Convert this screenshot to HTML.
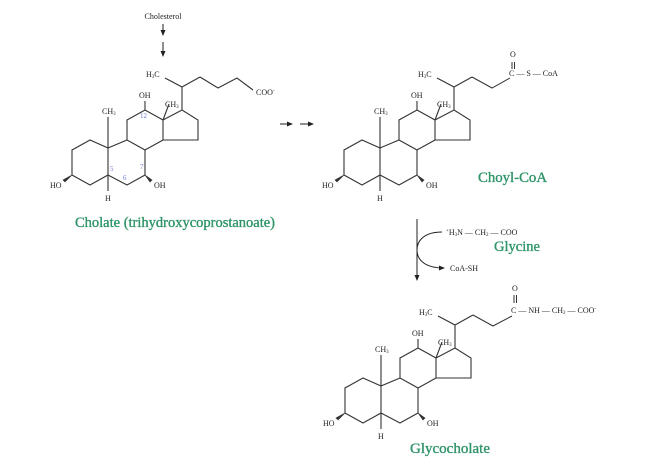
<!DOCTYPE html>
<html><head><meta charset="utf-8"><style>
html,body{margin:0;padding:0;background:#fff;}
svg{display:block;font-family:"Liberation Serif",serif;}
.s{font-size:8px;fill:#222;}
.g{font-size:14.5px;fill:#2f9468;stroke:#2f9468;stroke-width:0.35;}
.n{font-size:7px;fill:#6f79d8;}
</style></head><body>
<svg width="659" height="463" viewBox="0 0 659 463" xmlns="http://www.w3.org/2000/svg">
<defs>
<marker id="ar" markerWidth="6" markerHeight="6" refX="5" refY="3" orient="auto"><path d="M0,0.5 L6,3 L0,5.5 Z" fill="#222"/></marker>
<g id="sk" fill="none" stroke="#333" stroke-width="1.1">
<path d="M90,140 L72,150 L72,175 L90,185 L108,175 L108,148 Z M108,148 L127,140 L145,150 L145,175 L127,185 L108,175 M127,140 L127,120 L145,110 L163,120 L163,140 L145,150 M163,120 L182,110 L198,120 L198,140 L163,140 M108,148 L108,117 M145,110 L145,101 M163,120 L169,104 M182,110 L182,87 L165,78 M182,87 L200,77 M108,175 L108,191"/>
<path d="M72,175 L63,180 L65,182 Z M145,175 L152,180 L150,182 Z" fill="#333" stroke-width="0.6"/>
</g>
<g id="tx">
<text class="s" x="102" y="114">CH<tspan font-size="5" dy="1">3</tspan></text>
<text class="s" x="139" y="98">OH</text>
<text class="s" x="165" y="107">CH<tspan font-size="5" dy="1">3</tspan></text>
<text class="s" x="146" y="77">H<tspan font-size="5" dy="1">3</tspan><tspan dy="-1">C</tspan></text>
<text class="s" x="50" y="188">HO</text>
<text class="s" x="105" y="201">H</text>
<text class="s" x="154" y="188">OH</text>
</g>
</defs>

<text class="s" x="163" y="19" text-anchor="middle" font-size="9">Cholesterol</text>
<line x1="163" y1="24" x2="163" y2="35" stroke="#222" stroke-width="1" marker-end="url(#ar)"/>
<line x1="163" y1="42" x2="163" y2="56" stroke="#222" stroke-width="1" marker-end="url(#ar)"/>

<use href="#sk"/>
<use href="#tx"/>
<path d="M200,77 L218,88 L237,78 L253,90" fill="none" stroke="#333" stroke-width="1.1"/>
<text class="s" x="256" y="95">COO<tspan font-size="5" dy="-3">-</tspan></text>
<text class="n" x="110" y="171">5</text>
<text class="n" x="123" y="180">6</text>
<text class="n" x="140" y="169">7</text>
<text class="n" x="140" y="118">12</text>
<text class="g" x="75" y="227" textLength="200" lengthAdjust="spacingAndGlyphs">Cholate (trihydroxycoprostanoate)</text>

<line x1="280" y1="124" x2="292" y2="124" stroke="#222" stroke-width="1" marker-end="url(#ar)"/>
<line x1="300" y1="124" x2="313" y2="124" stroke="#222" stroke-width="1" marker-end="url(#ar)"/>

<g transform="translate(272,0)">
<use href="#sk"/>
<use href="#tx"/>
<path d="M200,77 L220,88 L238,78 M240,62 L240,69 M242.5,62 L242.5,69" fill="none" stroke="#333" stroke-width="1"/>
<text class="s" x="237" y="76">C — S — CoA</text>
<text class="s" x="238" y="57" font-size="7">O</text>
</g>
<text class="g" x="478" y="182" textLength="69" lengthAdjust="spacingAndGlyphs">Choyl-CoA</text>

<line x1="417" y1="219" x2="417" y2="280" stroke="#222" stroke-width="1" marker-end="url(#ar)"/>
<path d="M442,232 C425,232 417,240 417,250 C417,260 425,268 444,268" fill="none" stroke="#222" stroke-width="1" marker-end="url(#ar)"/>
<text class="s" x="446" y="235"><tspan font-size="5" dy="-3">+</tspan><tspan dy="3">H</tspan><tspan font-size="5" dy="1">3</tspan><tspan dy="-1">N — CH</tspan><tspan font-size="5" dy="1">2</tspan><tspan dy="-1"> — COO</tspan></text>
<text class="g" x="494" y="251" textLength="46" lengthAdjust="spacingAndGlyphs">Glycine</text>
<text class="s" x="450" y="271">CoA-SH</text>

<g transform="translate(273,238)">
<use href="#sk"/>
<use href="#tx"/>
<path d="M200,77 L220,88 L239,78 M241,57 L241,65 M243.5,57 L243.5,65" fill="none" stroke="#333" stroke-width="1"/>
<text class="s" x="238" y="75">C — NH — CH<tspan font-size="5" dy="1">2</tspan><tspan dy="-1"> — COO</tspan><tspan font-size="5" dy="-3">-</tspan></text>
<text class="s" x="239" y="53" font-size="7">O</text>
</g>
<text class="g" x="410" y="453" textLength="80" lengthAdjust="spacingAndGlyphs">Glycocholate</text>
</svg>
</body></html>
